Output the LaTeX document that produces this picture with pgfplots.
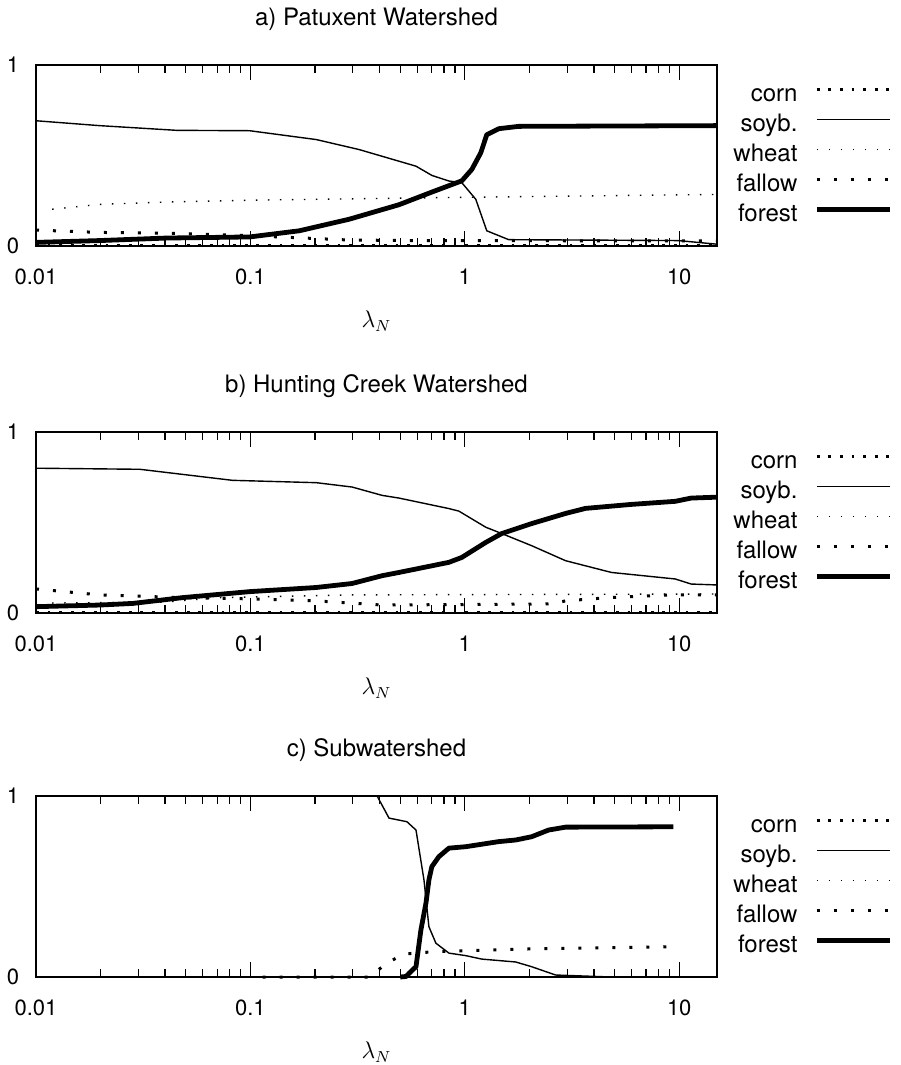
\documentclass[border=0pt]{standalone}
\usepackage{fontspec}
\setmainfont{TeX Gyre Heros}
\usepackage{pgfplots}
\pgfplotsset{compat=1.18}

\tikzset{
  cornst/.style={black, line width=1.4pt, dash pattern=on 1.4pt off 4.4pt},
  soybst/.style={black, line width=0.7pt},
  wheatst/.style={black, line width=0.7pt, dash pattern=on 0.7pt off 5.3pt},
  fallowst/.style={black, line width=1.5pt, dash pattern=on 1.5pt off 7pt},
  forestst/.style={black, line width=2.4pt, line join=round},
}
\pgfplotsset{
  legend image code/.code={\draw[#1] (0pt,3pt) -- (36.5pt,3pt);},
  every axis/.append style={
    scale only axis, width=340.5pt, height=90.5pt,
    xmin=0.01, xmax=15, ymin=0, ymax=1,
    xtick={0.01,0.1,1,10}, xticklabels={0.01,0.1,1,10},
    minor xtick={0.02,0.03,0.04,0.05,0.06,0.07,0.08,0.09,0.2,0.3,0.4,0.5,0.6,0.7,0.8,0.9,2,3,4,5,6,7,8,9},
    ytick={0,1}, yticklabels={0,1},
    tick align=inside, major tick length=7.5pt, minor tick length=4pt,
    axis line style={line width=0.7pt},
    tick style={black, line width=0.6pt},
    ticklabel style={font=\fontsize{11}{13}\selectfont},
    xticklabel style={anchor=center, yshift=-15.5pt},
    yticklabel style={anchor=center, xshift=-11.5pt},
    title style={at={(axis description cs:0.5,1)}, anchor=center, yshift=17pt, font=\fontsize{12}{14}\selectfont},
    xlabel={$\lambda_N$},
    xlabel style={at={(axis description cs:0.5,0)}, anchor=center, yshift=-37.5pt, font=\fontsize{12}{14}\selectfont},
    legend plot pos=right, legend cell align=right,
    legend style={at={(axis description cs:1.258,0.895)}, anchor=north east, draw=none, fill=none,
      inner sep=0pt, row sep=4pt, column sep=8.5pt, font=\fontsize{12}{14}\selectfont,
      nodes={inner sep=0pt, text height=8.5pt, text depth=2.5pt}},
    clip=false,
  },
}

\begin{document}
\begin{tikzpicture}
\path[use as bounding box] (0,0) rectangle (450pt,-532.5pt);

% a) Patuxent
\begin{semilogxaxis}[at={(18pt,-32.5pt)}, anchor=north west, title={a) Patuxent Watershed}]
\addplot[cornst] coordinates {(0.01,0.004) (15,0.004)};
\addplot[soybst] coordinates {(0.01,0.692) (0.0198,0.665) (0.0453,0.639) (0.099,0.637) (0.203,0.588) (0.321,0.533) (0.592,0.441) (0.702,0.39) (0.843,0.359) (0.968,0.35) (1.125,0.258) (1.266,0.084) (1.602,0.035) (9.9,0.03) (15,0.01)};
\addplot[wheatst] coordinates {(0.0119,0.203) (0.0198,0.23) (0.0407,0.243) (0.099,0.253) (0.843,0.268) (15,0.285)};
\addplot[fallowst] coordinates {(0.01,0.088) (0.0198,0.075) (0.045,0.07) (0.099,0.057) (0.15,0.048) (0.289,0.033) (0.6,0.03) (15,0.028)};
\addplot[forestst] coordinates {(0.01,0.02) (0.0198,0.03) (0.0407,0.044) (0.099,0.05) (0.169,0.084) (0.289,0.148) (0.493,0.228) (0.702,0.298) (0.968,0.36) (1.078,0.423) (1.187,0.515) (1.266,0.615) (1.439,0.648) (1.783,0.661) (15,0.665)};
\legend{corn,soyb.,wheat,fallow,forest}
\end{semilogxaxis}

% b) Hunting Creek
\begin{semilogxaxis}[at={(18pt,-216pt)}, anchor=north west, title={b) Hunting Creek Watershed}]
\addplot[cornst] coordinates {(0.01,0.003) (15,0.003)};
\addplot[soybst] coordinates {(0.01,0.80) (0.0305,0.794) (0.0825,0.733) (0.203,0.72) (0.298,0.696) (0.411,0.65) (0.493,0.635) (0.843,0.577) (0.938,0.563) (1.252,0.474) (1.486,0.439) (2.049,0.372) (2.95,0.289) (4.83,0.224) (9.58,0.188) (11.37,0.16) (15,0.155)};
\addplot[wheatst] coordinates {(0.0119,0.055) (0.04,0.06) (0.07,0.085) (0.3,0.1) (15,0.105)};
\addplot[fallowst] coordinates {(0.01,0.133) (0.0198,0.10) (0.0483,0.085) (0.099,0.078) (0.203,0.067) (0.411,0.044) (2.539,0.05) (2.95,0.067) (4.675,0.085) (9,0.1) (15,0.10)};
\addplot[forestst] coordinates {(0.01,0.035) (0.0198,0.044) (0.0283,0.053) (0.0483,0.085) (0.099,0.118) (0.203,0.141) (0.298,0.163) (0.411,0.206) (0.493,0.224) (0.843,0.28) (0.968,0.307) (1.252,0.39) (1.486,0.439) (2.049,0.494) (2.95,0.55) (3.655,0.578) (5.98,0.6) (9.58,0.617) (11.37,0.635) (15,0.64)};
\legend{corn,soyb.,wheat,fallow,forest}
\end{semilogxaxis}

% c) Subwatershed
\begin{semilogxaxis}[at={(18pt,-398pt)}, anchor=north west, title={c) Subwatershed}]
\addplot[cornst] coordinates {(0.114,0) (9.4,0)};
\addplot[soybst] coordinates {(0.114,1) (0.39,1) (0.443,0.878) (0.537,0.858) (0.592,0.812) (0.645,0.536) (0.68,0.278) (0.733,0.187) (0.843,0.132) (1.011,0.118) (1.2,0.099) (1.727,0.083) (2.049,0.057) (2.651,0.011) (4.83,0) (9.38,0)};
\addplot[wheatst] coordinates {(0.114,0) (9.4,0)};
\addplot[fallowst] coordinates {(0.114,0) (0.36,0) (0.43,0.075) (0.52,0.127) (0.72,0.14) (2,0.155) (9.4,0.167)};
\addplot[forestst] coordinates {(0.5,0) (0.532,0.003) (0.549,0.02) (0.592,0.057) (0.624,0.26) (0.659,0.409) (0.68,0.536) (0.702,0.61) (0.757,0.665) (0.843,0.712) (1.011,0.72) (1.439,0.748) (1.727,0.757) (2.049,0.775) (2.459,0.812) (2.95,0.828) (9.38,0.83)};
\legend{corn,soyb.,wheat,fallow,forest}
\end{semilogxaxis}
\end{tikzpicture}
\end{document}
